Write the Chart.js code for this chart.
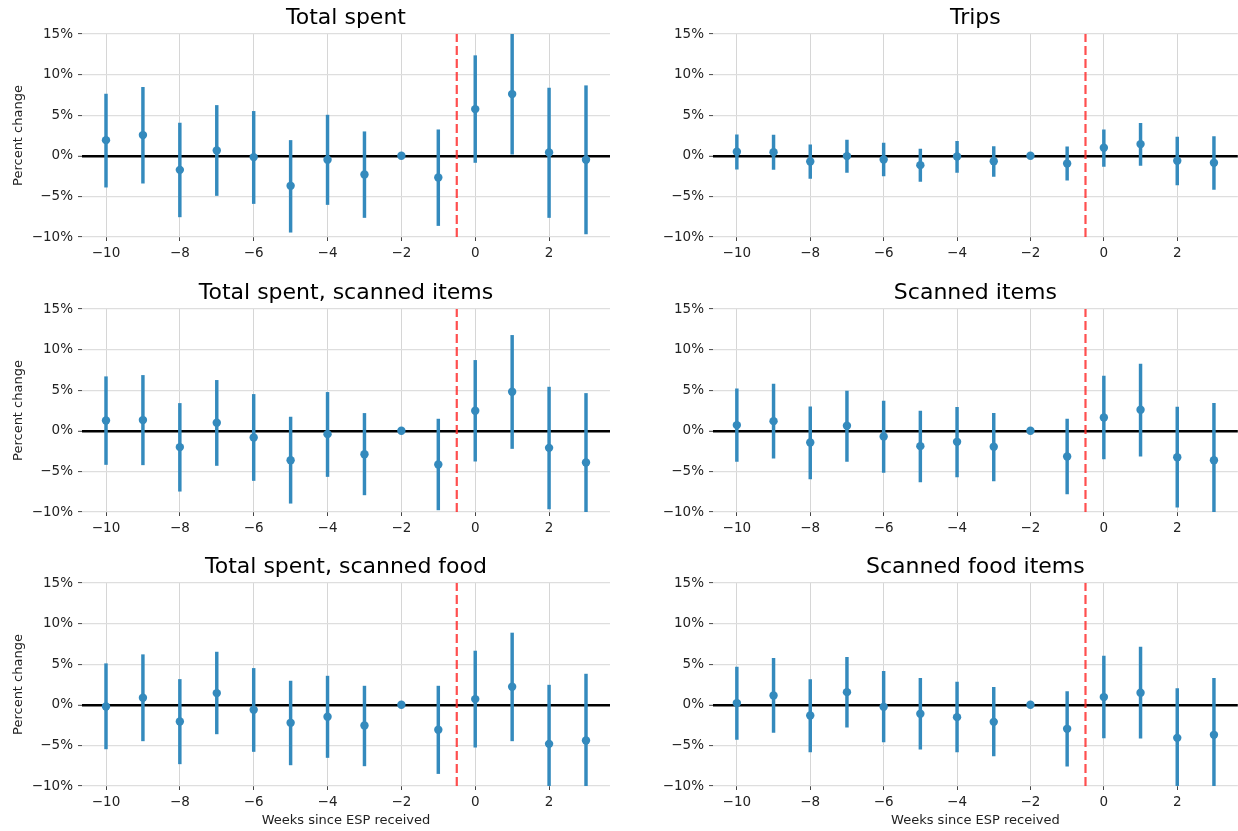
<!DOCTYPE html>
<html>
<head>
<meta charset="utf-8">
<script src="https://cdn.jsdelivr.net/npm/chart.js@4.4.1/dist/chart.umd.min.js"></script>
<style>
  html, body { margin: 0; padding: 0; background: #fff; overflow: hidden; }
  body { width: 1238px; height: 831px; position: relative; }
  canvas { position: absolute; }
</style>
</head>
<body>
<div id="grid"></div>
<script>
// ── data ──────────────────────────────────────────────────────────────────
const weeks = [-10, -9, -8, -7, -6, -5, -4, -3, -2, -1, 0, 1, 2, 3];
const weekTicks = [-10, -8, -6, -4, -2, 0, 2];
const pctTicks = [-10, -5, 0, 5, 10, 15];
const eventWeek = -0.5;

const spentEst = [1.93, 2.55, -1.73, 0.66, -0.16, -3.70, -0.49, -2.30, 0, -2.67, 5.75, 7.60, 0.41, -0.49];
const spentLo  = [-3.86, -3.37, -7.52, -4.89, -5.88, -9.41, -6.00, -7.60, 0, -8.59, -0.82, 0.20, -7.60, -9.62];
const spentHi  = [7.60, 8.43, 4.03, 6.20, 5.47, 1.89, 5.01, 2.96, 0, 3.20, 12.33, 15.10, 8.34, 8.63];

const tripsEst = [0.49, 0.45, -0.70, -0.04, -0.45, -1.15, -0.08, -0.66, 0, -0.95, 0.99, 1.44, -0.62, -0.86];
const tripsLo  = [-1.64, -1.69, -2.79, -2.06, -2.47, -3.16, -2.06, -2.55, 0, -3.00, -1.32, -1.19, -3.58, -4.15];
const tripsHi  = [2.59, 2.55, 1.36, 1.93, 1.56, 0.82, 1.77, 1.15, 0, 1.11, 3.20, 3.99, 2.30, 2.38];

const scanSpentEst = [1.27, 1.32, -2.01, 0.99, -0.82, -3.62, -0.41, -2.88, 0, -4.15, 2.47, 4.81, -2.10, -3.90];
const scanSpentLo  = [-4.15, -4.19, -7.44, -4.27, -6.12, -8.92, -5.63, -7.89, 0, -9.74, -3.74, -2.18, -9.62, -12.40];
const scanSpentHi  = [6.66, 6.82, 3.37, 6.21, 4.48, 1.69, 4.73, 2.14, 0, 1.44, 8.67, 11.75, 5.38, 4.60];

const scanItemsEst = [0.70, 1.19, -1.44, 0.62, -0.70, -1.89, -1.36, -1.97, 0, -3.16, 1.64, 2.59, -3.25, -3.62];
const scanItemsLo  = [-3.78, -3.37, -5.92, -3.78, -5.14, -6.29, -5.67, -6.17, 0, -7.77, -3.45, -3.12, -9.41, -10.61];
const scanItemsHi  = [5.18, 5.75, 2.96, 4.89, 3.66, 2.42, 2.88, 2.14, 0, 1.44, 6.74, 8.22, 2.92, 3.37];

const foodSpentEst = [-0.21, 0.86, -2.06, 1.44, -0.62, -2.22, -1.48, -2.55, 0, -3.08, 0.70, 2.22, -4.81, -4.40];
const foodSpentLo  = [-5.43, -4.44, -7.27, -3.58, -5.75, -7.40, -6.49, -7.52, 0, -8.47, -5.22, -4.44, -12.04, -12.58];
const foodSpentHi  = [5.06, 6.17, 3.12, 6.49, 4.48, 2.92, 3.53, 2.30, 0, 2.30, 6.62, 8.84, 2.42, 3.78];

const foodItemsEst = [0.21, 1.15, -1.32, 1.56, -0.25, -1.11, -1.52, -2.10, 0, -2.96, 0.95, 1.48, -4.07, -3.70];
const foodItemsLo  = [-4.27, -3.41, -5.80, -2.75, -4.56, -5.47, -5.80, -6.29, 0, -7.56, -4.07, -4.11, -10.15, -10.65];
const foodItemsHi  = [4.64, 5.71, 3.12, 5.84, 4.11, 3.25, 2.79, 2.14, 0, 1.64, 6.00, 7.11, 2.01, 3.25];

const panels = [
  { title: "Total spent",                 est: spentEst,     lo: spentLo,     hi: spentHi,     col: 0, row: 0 },
  { title: "Trips",                       est: tripsEst,     lo: tripsLo,     hi: tripsHi,     col: 1, row: 0 },
  { title: "Total spent, scanned items",  est: scanSpentEst, lo: scanSpentLo, hi: scanSpentHi, col: 0, row: 1 },
  { title: "Scanned items",               est: scanItemsEst, lo: scanItemsLo, hi: scanItemsHi, col: 1, row: 1 },
  { title: "Total spent, scanned food",   est: foodSpentEst, lo: foodSpentLo, hi: foodSpentHi, col: 0, row: 2 },
  { title: "Scanned food items",          est: foodItemsEst, lo: foodItemsLo, hi: foodItemsHi, col: 1, row: 2 },
];

// ── layout of the 3x2 grid ────────────────────────────────────────────────
const COLS = [
  { left: 0,   width: 620, axisW: 82, padR: 10 },
  { left: 620, width: 622, axisW: 93, padR: 0 },
];
const ROWS = [
  { top: 0,   height: 270 },
  { top: 275, height: 274 },
  { top: 549, height: 282 },
];
const TITLE_H = 34;
const PLOT_H = 203;

const BLUE = "#348ABD";
const FONT = "'DejaVu Sans', sans-serif";
const minus = (v) => (v < 0 ? "\u2212" + Math.abs(v) : String(v));

function makePanel(p) {
  const c = COLS[p.col];
  const r = ROWS[p.row];
  const canvas = document.createElement("canvas");
  canvas.width = c.width;
  canvas.height = r.height;
  canvas.style.left = c.left + "px";
  canvas.style.top = r.top + "px";
  document.getElementById("grid").appendChild(canvas);

  const xAxisH = r.height - TITLE_H - PLOT_H;
  const isLeft = p.col === 0;
  const isBottom = p.row === 2;

  new Chart(canvas, {
    data: {
      datasets: [
        {
          type: "scatter",
          data: weeks.map((w, i) => ({ x: w, y: p.est[i] })),
          backgroundColor: BLUE,
          borderWidth: 0,
          pointRadius: 4.2,
          pointHoverRadius: 4.2,
        },
        {
          // confidence intervals as floating bars
          type: "bar",
          data: weeks.map((w, i) => ({ x: w, y: [p.lo[i], p.hi[i]] })),
          backgroundColor: BLUE,
          borderWidth: 0,
          barThickness: 2.8,
          grouped: false,
        },
        {
          type: "line",
          data: [{ x: eventWeek, y: -10 }, { x: eventWeek, y: 15 }],
          borderColor: "rgba(255,40,40,0.82)",
          borderWidth: 2.2,
          borderDash: [9, 4],
          pointRadius: 0,
          fill: false,
        },
      ],
    },
    options: {
      responsive: false,
      animation: false,
      devicePixelRatio: 1,
      layout: { padding: { left: 0, right: c.padR, top: 0, bottom: 0 } },
      plugins: {
        legend: { display: false },
        tooltip: { enabled: false },
        title: {
          display: true,
          fullSize: false, // centre over the plot area, not the whole canvas
          text: p.title,
          color: "#000",
          font: { family: FONT, size: 22, weight: "normal", lineHeight: 1.2 },
          padding: { top: 5, bottom: TITLE_H - 5 - 26.4 },
        },
      },
      scales: {
        x: {
          type: "linear",
          min: -10.65,
          max: 3.65,
          offset: false,
          afterBuildTicks: (s) => { s.ticks = weekTicks.map((v) => ({ value: v })); },
          afterFit: (s) => { s.height = xAxisH; },
          border: { display: false },
          grid: {
            offset: false,
            color: "#d6d6d6",
            lineWidth: 1,
            tickColor: "#444",
            tickWidth: 1,
            tickLength: 4,
          },
          ticks: {
            color: "#222",
            font: { family: FONT, size: 13.5 },
            padding: 4,
            maxRotation: 0,
            callback: (v) => minus(v),
          },
          title: {
            display: isBottom,
            text: "Weeks since ESP received",
            color: "#222",
            font: { family: FONT, size: 13 },
            padding: { top: 0, bottom: 3 },
          },
        },
        y: {
          type: "linear",
          min: -10,
          max: 15,
          afterBuildTicks: (s) => { s.ticks = pctTicks.map((v) => ({ value: v })); },
          afterFit: (s) => { s.width = c.axisW; },
          border: { display: false },
          grid: {
            color: (ctx) => (ctx.tick && ctx.tick.value === 0 ? "#000" : "#dedede"),
            lineWidth: (ctx) => (ctx.tick && ctx.tick.value === 0 ? 2.6 : 1.2),
            tickColor: "#444",
            tickWidth: 1,
            tickLength: 4,
          },
          ticks: {
            color: "#222",
            font: { family: FONT, size: 13.5 },
            padding: 5,
            callback: (v) => minus(v) + "%",
          },
          title: {
            display: isLeft,
            text: "Percent change",
            color: "#222",
            font: { family: FONT, size: 13 },
            padding: { top: 10.5, bottom: 0 },
          },
        },
      },
    },
  });
}

panels.forEach(makePanel);
</script>
</body>
</html>
